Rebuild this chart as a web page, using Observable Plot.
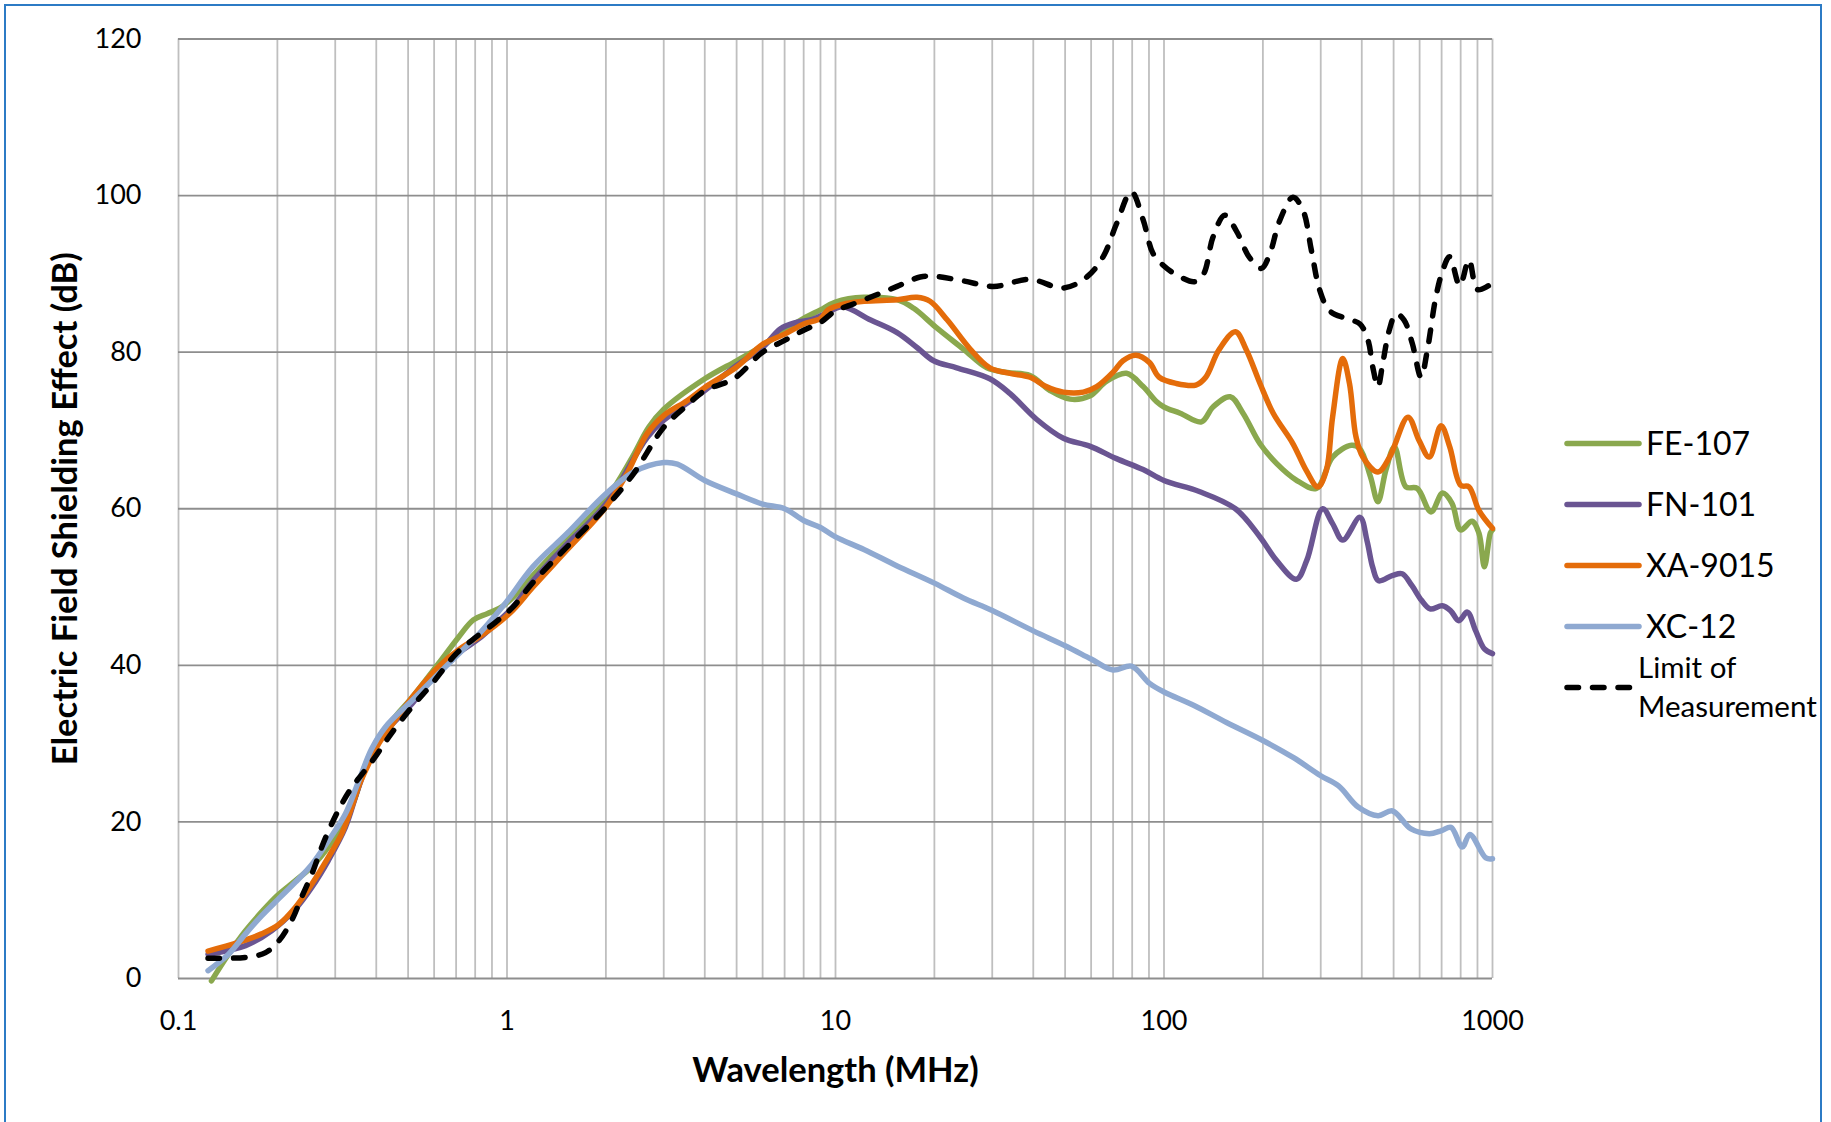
<!DOCTYPE html>
<html>
<head>
<meta charset="utf-8">
<script src="https://cdn.jsdelivr.net/npm/d3@7"></script>
<script src="https://cdn.jsdelivr.net/npm/@observablehq/plot@0.6"></script>
<style>
html,body{margin:0;padding:0;background:#fff;overflow:hidden;}
#wrap{position:relative;width:1831px;height:1122px;overflow:hidden;font-family:Lato,"Open Sans",sans-serif;background:#fff;}
#chart{position:absolute;left:0;top:0;}
#frame{position:absolute;left:4px;top:4px;width:1818px;height:1300px;border:2px solid #2C7BC5;box-sizing:border-box;pointer-events:none;}
#legend{position:absolute;left:0;top:0;}
</style>
</head>
<body>
<div id="wrap"><div id="chart"></div><svg id="legend" width="1820" height="1122"></svg><div id="frame"></div></div>
<script>
// ---------- data (frequency MHz, shielding dB) ----------
const seriesNames = ["FE-107", "FN-101", "XA-9015", "XC-12", "Limit of Measurement"];
const seriesColors = ["#8AA84E", "#6A5592", "#E46C0A", "#8FA9D1", "#000000"];

const fe107 = [[0.126,-0.3],[0.142,3.1],[0.16,6.1],[0.18,8.6],[0.2,10.6],[0.227,12.5],[0.255,14.3],[0.286,16.8],[0.322,20.2],[0.345,23.1],[0.37,27.2],[0.407,30.8],[0.46,33.6],[0.514,35.9],[0.618,40.2],[0.712,43.6],[0.79,45.8],[0.87,46.6],[0.95,47.3],[1.05,48.8],[1.2,51.5],[1.5,55.8],[2,61.2],[2.4,66.5],[2.7,70.4],[3,72.7],[4,76.6],[5,78.9],[6,80.8],[7,82.8],[8,84.3],[9,85.4],[10,86.4],[12.2,87.0],[15.4,86.7],[17.3,85.6],[20.2,83.2],[24.5,80.4],[28.9,78.0],[33.3,77.4],[39.1,77.0],[45,75.1],[51.8,74.0],[59.4,74.4],[66.9,76.3],[76.9,77.3],[86.4,75.6],[94.8,73.7],[100,73.0],[112,72.2],[130,71.1],[141,73.0],[159,74.3],[174,72.2],[196,68.3],[220,65.8],[252,63.7],[291,62.6],[326,66.6],[372,68.1],[394,67.7],[425,64.1],[448,60.9],[474,65.0],[503,67.9],[545,62.8],[590,62.6],[650,59.6],[705,62.0],[753,60.7],[800,57.3],[866,58.4],[909,56.9],[945,52.6],[985,56.9],[1000,57.3]];

const fn101 = [[0.123,3.1],[0.16,4.2],[0.192,6.1],[0.227,8.9],[0.255,11.7],[0.286,15.1],[0.322,19.3],[0.352,24.2],[0.387,28.8],[0.426,31.5],[0.514,35.1],[0.618,39.2],[0.73,41.9],[0.821,43.4],[0.922,45.3],[1.04,47.4],[1.2,50.8],[1.5,55.2],[2,60.6],[2.67,69.1],[3,71.3],[4,75.1],[5,78.3],[6,80.6],[6.8,83.0],[7.6,83.8],[8.5,84.2],[9.3,84.9],[10.5,85.8],[12.8,84.1],[15.4,82.5],[17.7,80.6],[19.9,78.9],[23.4,78.0],[29.5,76.6],[34,74.7],[41,71.4],[49.4,69.0],[59.4,68.0],[71.7,66.4],[86.4,65.0],[100,63.6],[128,62.2],[165,60.0],[196,56.4],[220,53.4],[253,51.0],[272,53.4],[304,60.0],[326,58.1],[350,56.0],[395,58.9],[415,55.9],[432,52.5],[450,50.8],[497,51.5],[531,51.7],[568,50.2],[608,48.3],[646,47.2],[703,47.6],[745,47.0],[790,45.7],[838,46.8],[889,44.4],[945,42.1],[1000,41.5]];

const xa9015 = [[0.123,3.5],[0.152,4.6],[0.179,5.7],[0.202,6.9],[0.227,9.1],[0.255,12.1],[0.286,15.5],[0.314,18.5],[0.337,21.9],[0.357,25.0],[0.379,27.4],[0.407,30.0],[0.457,33.0],[0.514,35.9],[0.618,39.8],[0.73,42.3],[0.821,43.6],[0.922,45.1],[1.04,47.0],[1.2,50.0],[1.52,54.7],[2,60.2],[2.32,64.5],[2.67,69.6],[3,71.9],[3.53,73.8],[4,75.5],[5,78.1],[6,81.0],[7,82.3],[8,83.6],[9,84.3],[9.5,85.4],[10.5,86.1],[12.2,86.5],[15.4,86.7],[17.7,87.0],[19.4,86.5],[21.9,84.1],[25.7,80.4],[29.5,78.0],[34,77.3],[39.1,76.8],[43.8,75.6],[49.4,74.9],[56.8,74.9],[62.4,75.6],[70.2,77.5],[75,78.9],[82.1,79.6],[90.2,78.7],[96.7,76.8],[109,76.0],[125,75.8],[134,76.8],[147,80.3],[165,82.6],[178,80.3],[196,76.0],[215,72.2],[247,68.3],[271,64.9],[294,62.8],[312,64.9],[326,71.7],[350,79.2],[367,76.0],[384,69.2],[403,66.6],[448,64.7],[486,66.6],[553,71.7],[598,68.7],[642,66.6],[697,70.6],[741,67.9],[800,63.0],[848,62.8],[909,59.8],[1000,57.5]];

const xc12 = [[0.123,1.0],[0.142,3.1],[0.16,5.7],[0.179,8.0],[0.202,10.2],[0.227,12.3],[0.255,14.6],[0.286,17.6],[0.322,21.0],[0.352,25.0],[0.387,29.3],[0.426,32.1],[0.514,35.5],[0.618,38.9],[0.73,41.9],[0.821,44.0],[0.922,46.4],[1.0,48.2],[1.2,52.6],[1.52,56.8],[2,61.9],[2.43,64.7],[3,65.9],[3.3,65.7],[4,63.6],[5,61.9],[6,60.6],[7,60.0],[8,58.5],[9,57.6],[10,56.4],[12.2,54.8],[15.4,52.7],[20,50.5],[24.5,48.6],[30,47.0],[40,44.4],[50,42.5],[60,40.8],[70,39.4],[79.6,39.9],[90.4,37.7],[100,36.6],[123,34.9],[155,32.7],[200,30.4],[248,28.2],[300,25.9],[340,24.6],[390,21.9],[448,20.8],[496,21.4],[565,19.1],[642,18.5],[700,18.9],[748,19.3],[809,16.8],[853,18.4],[955,15.4],[1000,15.3]];

const limitOfMeasurement = [[0.123,2.6],[0.16,2.7],[0.184,3.3],[0.202,4.8],[0.221,7.4],[0.237,10.4],[0.255,13.4],[0.273,16.8],[0.293,19.8],[0.314,22.3],[0.337,24.4],[0.362,26.1],[0.397,28.3],[0.436,30.8],[0.514,34.7],[0.59,37.6],[0.694,41.3],[0.782,43.2],[0.922,45.5],[1.04,47.4],[1.2,50.6],[1.52,55.1],[2,60.2],[2.43,64.5],[3,70.4],[3.53,73.2],[4,75.1],[4.9,76.6],[6,80.0],[7,81.5],[8,82.8],[9,83.8],[10,85.3],[11.1,86.0],[13.1,87.2],[15.4,88.4],[18.1,89.6],[19.9,89.7],[24.5,89.1],[30.3,88.4],[39.1,89.3],[49.4,88.2],[58.2,89.6],[65.3,92.2],[71.7,96.4],[79.5,100.5],[86.4,96.9],[92.6,92.6],[100,91.0],[108,90.0],[124,89.0],[132,90.0],[141,94.7],[153,97.5],[166,95.5],[182,92.1],[198,90.7],[210,92.6],[225,96.8],[247,99.8],[265,98.1],[281,93.0],[298,87.9],[319,85.3],[358,84.3],[395,83.6],[418,81.5],[432,78.1],[448,75.6],[463,78.5],[485,82.8],[509,84.9],[538,84.1],[570,81.1],[606,76.8],[633,80.2],[672,87.0],[705,90.4],[740,92.2],[795,88.5],[848,91.8],[900,88.0],[975,88.5],[1000,88.7]];

const xTickValues = [0.1, 1, 10, 100, 1000];
const xTickLabels = ["0.1", "1", "10", "100", "1000"];
const yTickValues = [0, 20, 40, 60, 80, 100, 120];
const xTitle = "Wavelength (MHz)";
const yTitle = "Electric Field Shielding Effect (dB)";

// ---------- chart ----------
const W = 1831, H = 1122;
const allSeries = [fe107, fn101, xa9015, xc12, limitOfMeasurement];
const minorGrid = [];
for (const decade of [0.1, 1, 10, 100]) for (let m = 1; m <= 9; m++) minorGrid.push(+(decade * m).toPrecision(3));
minorGrid.push(1000);

const lineMarks = allSeries.map((s, i) => Plot.line(s, {
  x: d => d[0], y: d => d[1],
  stroke: seriesColors[i],
  strokeWidth: i === 4 ? 5.5 : 5.5,
  strokeDasharray: i === 4 ? "11.5,14" : null,
  strokeLinecap: "round",
  strokeLinejoin: "round",
  curve: "catmull-rom"
}));

const chart = Plot.plot({
  width: W, height: H,
  marginLeft: 178, marginRight: W - 1492, marginTop: 38.5, marginBottom: H - 978,
  style: {fontFamily: "Lato, 'Open Sans', sans-serif", fontSize: "27px", color: "#000", background: "transparent", overflow: "visible"},
  x: {type: "log", domain: [0.1, 1000], ticks: xTickValues, tickSize: 0, tickPadding: 32,
      tickFormat: d => xTickLabels[xTickValues.indexOf(d)] ?? "", label: null},
  y: {domain: [0, 120], ticks: yTickValues, tickSize: 0, tickPadding: 37, label: null},
  marks: [
    Plot.ruleX(minorGrid, {stroke: "#BFBFBF", strokeWidth: 1.8}),
    Plot.ruleY(yTickValues, {stroke: "#8E8E8E", strokeWidth: 1.8}),
    ...lineMarks,
    Plot.text([xTitle], {frameAnchor: "bottom", dy: 103.5, lineAnchor: "bottom", textAnchor: "middle", text: d => d,
      fontWeight: "bold", fontSize: 34.5, fill: "#000"}),
    Plot.text([yTitle], {frameAnchor: "left", dx: -102, rotate: -90, lineAnchor: "bottom", textAnchor: "middle", text: d => d,
      fontWeight: "bold", fontSize: 34.5, fill: "#000"})
  ]
});
document.getElementById("chart").appendChild(chart);

// ---------- legend ----------
const leg = d3.select("#legend");
const legY0 = 443.5, legStep = 61;
seriesNames.forEach((name, i) => {
  const y = legY0 + i * legStep;
  leg.append("line").attr("x1", 1567).attr("x2", i === 4 ? 1633 : 1639).attr("y1", y).attr("y2", y)
    .attr("stroke", seriesColors[i]).attr("stroke-width", 5.5)
    .attr("stroke-linecap", "round")
    .attr("stroke-dasharray", i === 4 ? "11.5,14" : null);
  if (i < 4) {
    leg.append("text").attr("x", 1646).attr("y", y + 11.7).attr("font-size", 32)
      .attr("font-family", "Lato, 'Open Sans', sans-serif").attr("fill", "#000").text(name);
  } else {
    const words = ["Limit of", "Measurement"];
    words.forEach((w, k) => {
      leg.append("text").attr("x", 1638).attr("y", 677.6 + k * 39).attr("font-size", 29.5)
        .attr("font-family", "Lato, 'Open Sans', sans-serif").attr("fill", "#000").text(w);
    });
  }
});
</script>
</body>
</html>
